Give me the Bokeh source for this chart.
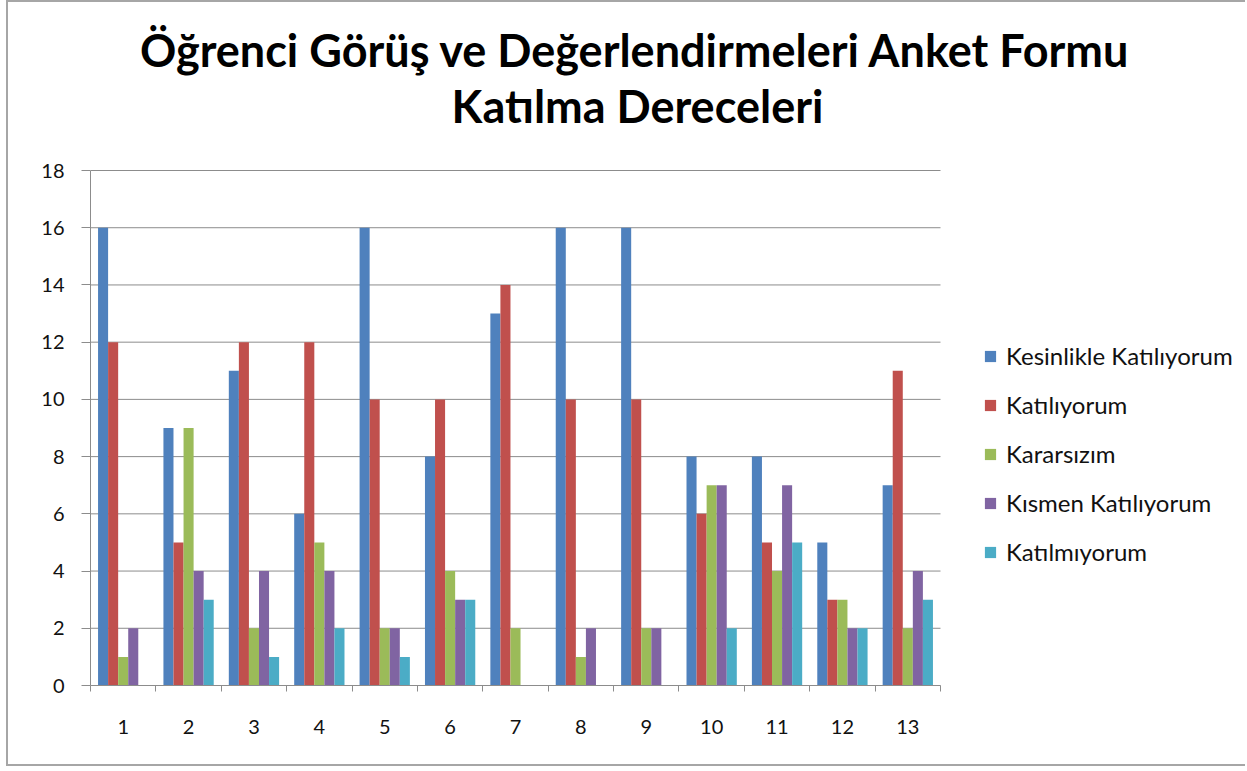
from bokeh.plotting import figure
from bokeh.models import (Range1d, FixedTicker, Legend, LegendItem, Label,
                          ColumnDataSource)
from bokeh.transform import dodge
from bokeh.embed import file_html
from bokeh.resources import INLINE

categories = [1, 2, 3, 4, 5, 6, 7, 8, 9, 10, 11, 12, 13]
series_names = ["Kesinlikle Katılıyorum", "Katılıyorum", "Kararsızım",
                "Kısmen Katılıyorum", "Katılmıyorum"]
kesinlikle = [16, 9, 11, 6, 16, 8, 13, 16, 16, 8, 8, 5, 7]
katiliyorum = [12, 5, 12, 12, 10, 10, 14, 10, 10, 6, 5, 3, 11]
kararsizim = [1, 9, 2, 5, 2, 4, 2, 1, 2, 7, 4, 3, 2]
kismen = [2, 4, 4, 4, 2, 3, 0, 2, 2, 7, 7, 2, 4]
katilmiyorum = [0, 3, 1, 2, 1, 3, 0, 0, 0, 2, 5, 2, 3]
y_ticks = [0, 2, 4, 6, 8, 10, 12, 14, 16, 18]
title_lines = ["Öğrenci Görüş ve Değerlendirmeleri Anket Formu",
               "Katılma Dereceleri"]

colors = ["#4F81BD", "#C0504D", "#9BBB59", "#8064A2", "#4BACC6"]
FONT = "Lato"
GRID = "#8c8c8c"

src = ColumnDataSource(dict(cat=categories, s0=kesinlikle, s1=katiliyorum,
                            s2=kararsizim, s3=kismen, s4=katilmiyorum))

# canvas offset by the css border: x +8, y +2
W, H = 1239, 766
LEFT = 82
FRAME_BOTTOM = 683
BOTTOM = H - FRAME_BOTTOM
fw, fh = W - LEFT, FRAME_BOTTOM
px_x = 850 / 13.0
px_y = 515 / 18.0
x_end = 0.5 + fw / px_x
y_end = fh / px_y

p = figure(width=W, height=H, output_backend="svg", toolbar_location=None,
           x_range=Range1d(0.5, x_end), y_range=Range1d(0, y_end),
           min_border_left=LEFT, min_border_right=0,
           min_border_top=0, min_border_bottom=BOTTOM)
p.outline_line_color = None
p.background_fill_color = "white"
p.border_fill_color = "white"
p.styles = {"margin-left": "6px",
            "border-left": "2px solid #a6a6a6",
            "border-top": "2px solid #a6a6a6",
            "border-bottom": "2px solid #a6a6a6",
            "border-right": "0px none white"}

# horizontal gridlines across the category span only
p.segment(x0=0.5, x1=13.5, y0=y_ticks, y1=y_ticks, line_color=GRID,
          line_width=1)

bw = 1.0 / 6.5
renderers = []
for i in range(5):
    r = p.vbar(x=dodge("cat", (i - 2) * bw, range=p.x_range), top="s%d" % i,
               width=bw, source=src, fill_color=colors[i], line_color=None)
    renderers.append(r)

# axes
p.xaxis.ticker = FixedTicker(ticks=categories,
                             minor_ticks=[c - 0.5 for c in categories] + [13.5])
p.yaxis.ticker = FixedTicker(ticks=y_ticks)
p.xaxis.bounds = (0.5, 13.5)
p.yaxis.bounds = (0, 18)
for ax in (p.xaxis[0], p.yaxis[0]):
    ax.axis_line_color = GRID
    ax.major_label_text_font = FONT
    ax.major_label_text_font_size = "20px"
    ax.major_label_text_color = "#111111"
    ax.minor_tick_line_color = None
p.xaxis.major_tick_line_color = None
p.xaxis.minor_tick_line_color = GRID
p.xaxis.minor_tick_out = 6
p.xaxis.minor_tick_in = 0
p.xaxis.major_label_standoff = 28
p.yaxis.major_tick_line_color = GRID
p.yaxis.major_tick_out = 9
p.yaxis.major_tick_in = 0
p.yaxis.major_label_standoff = 17

p.xgrid.grid_line_color = None
p.ygrid.grid_line_color = None

# title lines (screen units relative to the plot frame's bottom-left)
p.add_layout(Label(x=545, y=685 - 49, x_units="screen", y_units="screen",
                   text=title_lines[0], text_align="center",
                   text_baseline="alphabetic", text_font=FONT,
                   text_font_style="bold", text_font_size="45px",
                   text_color="black"))
p.add_layout(Label(x=547, y=685 - 105, x_units="screen", y_units="screen",
                   text=title_lines[1], text_align="center",
                   text_baseline="alphabetic", text_font=FONT,
                   text_font_style="bold", text_font_size="45px",
                   text_color="black"))

legend = Legend(items=[LegendItem(label=series_names[i], renderers=[renderers[i]])
                       for i in range(5)],
                location=(893, 119), orientation="vertical",
                glyph_width=14, glyph_height=14, label_standoff=9,
                label_text_font=FONT, label_text_font_size="24px",
                label_text_color="#111111", label_height=26,
                spacing=20, padding=0, margin=0,
                border_line_color=None, background_fill_alpha=0)
p.add_layout(legend, "center")

open("out.html", "w").write(file_html(p, INLINE))
